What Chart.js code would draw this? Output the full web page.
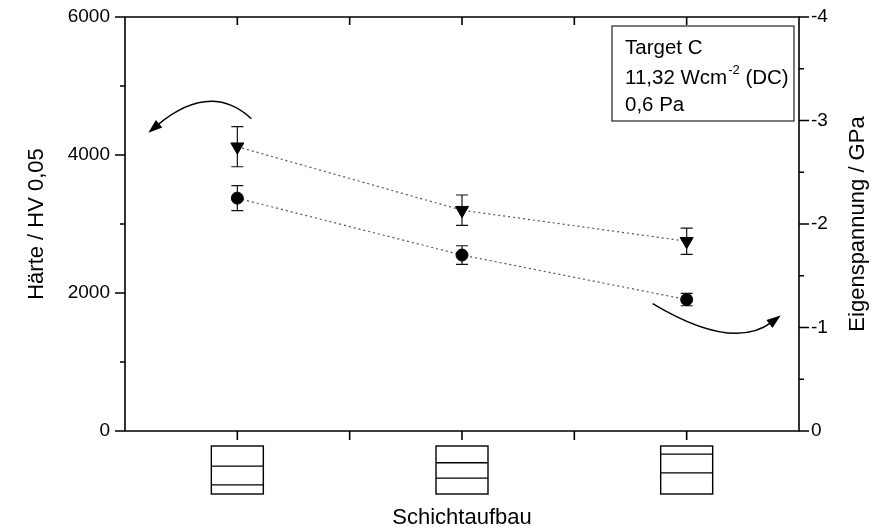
<!DOCTYPE html>
<html>
<head>
<meta charset="utf-8">
<script src="https://cdn.jsdelivr.net/npm/chart.js@4/dist/chart.umd.min.js"></script>
<style>
  html, body { margin: 0; padding: 0; background: #fff; }
  #wrap { width: 874px; height: 530px; }
</style>
</head>
<body>
<div id="wrap"><canvas id="c" width="874" height="530"></canvas></div>
<script>
// Layer structures (x positions of the three coatings)
const structures = [1, 2, 3];
// Hardness HV 0,05 (triangles, left axis) with error
const haerte = [4120, 3200, 2750];
const haerteErr = [290, 220, 190];
// Residual stress in GPa (circles, right axis) with error
const spannung = [-2.25, -1.70, -1.27];
const spannungErr = [0.12, 0.09, 0.06];
// Relative depth of the interfaces inside each layer-stack sketch
const layerSplits = [[0.42, 0.81], [0.35, 0.67], [0.17, 0.56]];
// Tick labels
const hvTicks = [0, 2000, 4000, 6000];
const gpaTicks = [-4, -3, -2, -1, 0];
// Deposition parameters
const infoTitle = 'Target C';
const infoPower = ['11,32 Wcm', '-2', ' (DC)'];
const infoPressure = '0,6 Pa';

const FONT = '"Liberation Sans", Arial, Helvetica, sans-serif';
const INK = '#000';

function curvedArrow(ctx, p0, c, p2) {
  const dx = p2[0] - c[0], dy = p2[1] - c[1];
  const L = Math.hypot(dx, dy), ux = dx / L, uy = dy / L;
  const len = 14, w = 5;
  const bx = p2[0] - ux * len, by = p2[1] - uy * len;
  ctx.beginPath();
  ctx.moveTo(p0[0], p0[1]);
  ctx.quadraticCurveTo(c[0], c[1], bx + ux * 3, by + uy * 3);
  ctx.stroke();
  ctx.beginPath();
  ctx.moveTo(p2[0], p2[1]);
  ctx.lineTo(bx - uy * w, by + ux * w);
  ctx.lineTo(bx + uy * w, by - ux * w);
  ctx.closePath();
  ctx.fill();
}

// keep the tick-label overflow from pushing the plot area inwards
function noLabelPadding(s) {
  s.paddingTop = 0;
  s.paddingBottom = 0;
}

const decorations = {
  id: 'decorations',
  beforeDatasetsDraw(chart) {
    const ctx = chart.ctx;
    const xs = chart.scales.x, yl = chart.scales.y, yr = chart.scales.y2;
    ctx.save();
    ctx.strokeStyle = '#111';
    ctx.lineWidth = 1.2;
    const bars = (vals, errs, scale) => {
      vals.forEach((v, i) => {
        const px = xs.getPixelForValue(structures[i]);
        const a = scale.getPixelForValue(v + errs[i]);
        const b = scale.getPixelForValue(v - errs[i]);
        ctx.beginPath();
        ctx.moveTo(px, a); ctx.lineTo(px, b);
        ctx.moveTo(px - 6, a); ctx.lineTo(px + 6, a);
        ctx.moveTo(px - 6, b); ctx.lineTo(px + 6, b);
        ctx.stroke();
      });
    };
    bars(haerte, haerteErr, yl);
    bars(spannung, spannungErr, yr);
    ctx.restore();
  },
  afterDraw(chart) {
    const ctx = chart.ctx;
    const { left, right, top, bottom } = chart.chartArea;
    const xs = chart.scales.x, yl = chart.scales.y, yr = chart.scales.y2;
    ctx.save();
    ctx.strokeStyle = INK;
    ctx.fillStyle = INK;
    ctx.lineWidth = 1.6;
    ctx.lineCap = 'butt';

    // frame
    ctx.beginPath();
    ctx.rect(left, top, right - left, bottom - top);
    ctx.stroke();

    // left ticks (outward), majors + minors
    ctx.beginPath();
    for (let v = 0; v <= 6000; v += 1000) {
      const y = yl.getPixelForValue(v);
      const len = (v % 2000 === 0) ? 10 : 5;
      ctx.moveTo(left, y); ctx.lineTo(left - len, y);
    }
    // right ticks (outward)
    for (let v = -4; v <= 0.001; v += 0.5) {
      const y = yr.getPixelForValue(v);
      const len = (Math.abs(v % 1) < 0.01) ? 10 : 5;
      ctx.moveTo(right, y); ctx.lineTo(right + len, y);
    }
    // bottom ticks (outward) and top ticks (inward)
    for (let v = 1; v <= 3.001; v += 0.5) {
      const x = xs.getPixelForValue(v);
      ctx.moveTo(x, bottom); ctx.lineTo(x, bottom + 9);
      ctx.moveTo(x, top); ctx.lineTo(x, top + 8);
    }
    ctx.stroke();

    // layer-stack sketches below the x axis
    ctx.lineWidth = 1.4;
    const bw = 52, bh = 48, bt = bottom + 15;
    structures.forEach((s, i) => {
      const cx = xs.getPixelForValue(s);
      const bl = cx - bw / 2;
      ctx.strokeRect(bl, bt, bw, bh);
      ctx.beginPath();
      layerSplits[i].forEach(f => {
        const y = bt + f * bh;
        ctx.moveTo(bl, y); ctx.lineTo(bl + bw, y);
      });
      ctx.stroke();
    });

    // arrows pointing to the axis each series belongs to
    ctx.lineWidth = 1.4;
    const hx = xs.getPixelForValue(structures[0]);
    const hy = yl.getPixelForValue(haerte[0]);
    curvedArrow(ctx, [hx + 14, hy - 28], [hx - 27, hy - 66], [hx - 89, hy - 14]);
    const sx = xs.getPixelForValue(structures[2]);
    const sy = yr.getPixelForValue(spannung[2]);
    curvedArrow(ctx, [sx - 34, sy + 4], [sx + 46, sy + 52], [sx + 94, sy + 16]);

    // parameter box
    ctx.lineWidth = 1.2;
    ctx.strokeStyle = '#222';
    const bx0 = 612, by0 = 26, bx1 = 794, by1 = 121;
    ctx.fillStyle = '#fff';
    ctx.fillRect(bx0, by0, bx1 - bx0, by1 - by0);
    ctx.strokeRect(bx0, by0, bx1 - bx0, by1 - by0);
    ctx.fillStyle = INK;
    ctx.textBaseline = 'alphabetic';
    ctx.textAlign = 'left';
    ctx.font = '20.5px ' + FONT;
    const tx = 625;
    ctx.fillText(infoTitle, tx, 54);
    ctx.fillText(infoPower[0], tx, 84);
    const w0 = ctx.measureText(infoPower[0]).width;
    ctx.font = '13px ' + FONT;
    ctx.fillText(infoPower[1], tx + w0 + 1, 74);
    const w1 = ctx.measureText(infoPower[1]).width;
    ctx.font = '20.5px ' + FONT;
    ctx.fillText(infoPower[2], tx + w0 + w1 + 1, 84);
    ctx.fillText(infoPressure, tx, 111);

    // axis titles
    ctx.font = '22px ' + FONT;
    ctx.textAlign = 'center';
    ctx.textBaseline = 'middle';
    ctx.fillText('Schichtaufbau', (left + right) / 2, 518);
    const mid = (top + bottom) / 2;
    ctx.save();
    ctx.translate(37, mid);
    ctx.rotate(-Math.PI / 2);
    ctx.fillText('Härte / HV 0,05', 0, 0);
    ctx.restore();
    ctx.save();
    ctx.translate(858, mid);
    ctx.rotate(-Math.PI / 2);
    ctx.fillText('Eigenspannung / GPa', 0, 0);
    ctx.restore();

    ctx.restore();
  }
};

new Chart(document.getElementById('c'), {
  type: 'line',
  data: {
    datasets: [
      {
        label: 'Härte',
        yAxisID: 'y',
        data: structures.map((s, i) => ({ x: s, y: haerte[i] })),
        borderColor: '#555',
        borderWidth: 1.2,
        borderDash: [2, 3],
        pointStyle: 'triangle',
        rotation: 180,
        pointRadius: 7.5,
        pointBackgroundColor: INK,
        pointBorderColor: INK,
        pointBorderWidth: 1,
        tension: 0
      },
      {
        label: 'Eigenspannung',
        yAxisID: 'y2',
        data: structures.map((s, i) => ({ x: s, y: spannung[i] })),
        borderColor: '#555',
        borderWidth: 1.2,
        borderDash: [2, 3],
        pointStyle: 'circle',
        pointRadius: 6,
        pointBackgroundColor: INK,
        pointBorderColor: INK,
        pointBorderWidth: 1,
        tension: 0
      }
    ]
  },
  options: {
    responsive: false,
    animation: false,
    devicePixelRatio: 1,
    layout: { padding: { top: 17, left: 0, right: 0, bottom: 0 } },
    plugins: { legend: { display: false }, tooltip: { enabled: false } },
    scales: {
      x: {
        type: 'linear',
        min: 0.5,
        max: 3.5,
        grid: { display: false, drawTicks: false },
        border: { display: false },
        ticks: { display: false },
        afterFit(s) { s.height = 99; s.paddingLeft = 0; s.paddingRight = 0; }
      },
      y: {
        position: 'left',
        min: 0,
        max: 6000,
        grid: { display: false, drawTicks: false },
        border: { display: false },
        afterBuildTicks(s) { s.ticks = hvTicks.map(v => ({ value: v })); },
        ticks: {
          color: INK,
          padding: 15,
          font: { family: FONT, size: 19 },
          callback: v => String(v)
        },
        afterFit(s) { s.width = 125; noLabelPadding(s); }
      },
      y2: {
        position: 'right',
        min: -4,
        max: 0,
        reverse: true,
        grid: { display: false, drawTicks: false },
        border: { display: false },
        afterBuildTicks(s) { s.ticks = gpaTicks.map(v => ({ value: v })); },
        ticks: {
          color: INK,
          padding: 12,
          font: { family: FONT, size: 19 },
          callback: v => String(v)
        },
        afterFit(s) { s.width = 75; noLabelPadding(s); }
      }
    }
  },
  plugins: [decorations]
});
</script>
</body>
</html>
